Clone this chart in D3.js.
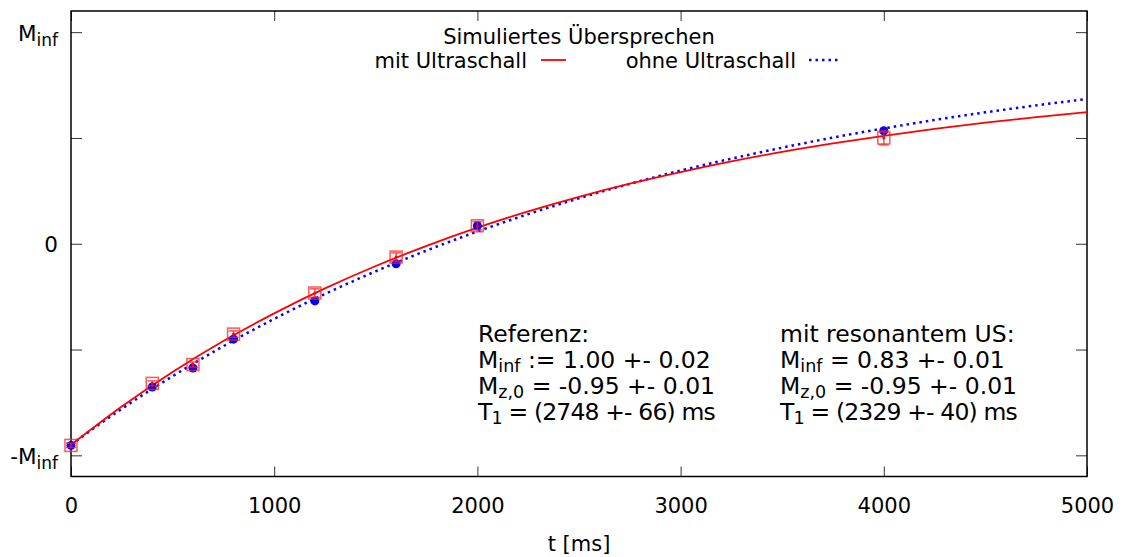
<!DOCTYPE html>
<html><head><meta charset="utf-8">
<script src="https://cdn.jsdelivr.net/npm/d3@7"></script>
<style>
body{margin:0;background:#fff;}
text{font-family:"DejaVu Sans",sans-serif;fill:#000;}
</style></head>
<body><svg id="c" width="1124" height="557"></svg>
<script>
// ---- data ----
const tPoints = [0, 400, 600, 800, 1200, 1600, 2000, 4000];
const mitUS   = [-0.953, -0.660, -0.571, -0.427, -0.233, -0.063, 0.085, 0.500];
const mitErr  = [0.010, 0.012, 0.012, 0.015, 0.020, 0.020, 0.020, 0.033];
const ohneUS  = [-0.953, -0.677, -0.587, -0.451, -0.270, -0.095, 0.085, 0.534];
const ohneErr = [0.008, 0.008, 0.008, 0.010, 0.010, 0.015, 0.010, 0.012];
// fit curves sampled every 250 ms
const tCurve  = [0,250,500,750,1000,1250,1500,1750,2000,2250,2500,2750,3000,3250,3500,3750,4000,4250,4500,4750,5000];
const fitMit  = [-0.950,-0.769,-0.606,-0.460,-0.329,-0.211,-0.105,-0.010,0.076,0.153,0.222,0.284,0.339,0.389,0.434,0.474,0.510,0.543,0.572,0.598,0.622];
const fitOhne = [-0.950,-0.780,-0.626,-0.484,-0.355,-0.237,-0.130,-0.032,0.058,0.140,0.215,0.283,0.346,0.402,0.454,0.502,0.545,0.585,0.621,0.654,0.684];
const xTicks = [0, 1000, 2000, 3000, 4000, 5000];
const yTicks = [-1, -0.5, 0, 0.5, 1];
const yTickLabels = [["-M","inf"], null, ["0",""], null, ["M","inf"]];
const legendTitle = "Simuliertes Übersprechen";
const legendNames = ["mit Ultraschall", "ohne Ultraschall"];
const xLabel = "t [ms]";
const refBlock = [["Referenz:"],["M","inf"," := 1.00 +- 0.02"],["M","z,0"," = -0.95 +- 0.01"],["T","1"," = (2748 +- 66) ms"]];
const usBlock  = [["mit resonantem US:"],["M","inf"," = 0.83 +- 0.01"],["M","z,0"," = -0.95 +- 0.01"],["T","1"," = (2329 +- 40) ms"]];

// ---- layout ----
const L = 71, R = 1087, T = 11, B = 476.5;
const svg = d3.select("#c");
const x = d3.scaleLinear().domain([0, 5000]).range([L, R]);
const y = d3.scaleLinear().domain([-1.1, 1.1]).range([B, T]);
const FS = 21;

// axes (ticks inward, mirrored)
function styleAxis(g){ g.select(".domain").remove(); g.selectAll(".tick line").attr("stroke","#333").attr("stroke-width",1); }
const gx = svg.append("g").attr("transform",`translate(0,${B})`)
  .call(d3.axisBottom(x).tickValues(xTicks).tickSize(-10).tickFormat(d3.format("d")).tickPadding(22));
styleAxis(gx);
gx.selectAll(".tick text").attr("font-size",FS).attr("font-family","DejaVu Sans").attr("fill","#000");
const gxt = svg.append("g").attr("transform",`translate(0,${T})`)
  .call(d3.axisTop(x).tickValues(xTicks).tickSize(-10).tickFormat(""));
styleAxis(gxt);
const gy = svg.append("g").attr("transform",`translate(${L},0)`)
  .call(d3.axisLeft(y).tickValues(yTicks).tickSize(-11).tickFormat(""));
styleAxis(gy);
gy.selectAll(".tick").each(function(d,i){
  const lab = yTickLabels[i]; if(!lab) return;
  const t = d3.select(this).append("text").attr("x",-13).attr("y",8).attr("text-anchor","end").attr("font-size",FS+0.5);
  t.append("tspan").text(lab[0]);
  if(lab[1]) t.append("tspan").attr("dy",5).attr("font-size",17).text(lab[1]);
});
const gyr = svg.append("g").attr("transform",`translate(${R},0)`)
  .call(d3.axisRight(y).tickValues(yTicks).tickSize(-11).tickFormat(""));
styleAxis(gyr);

// border
svg.append("rect").attr("x",L).attr("y",T).attr("width",R-L).attr("height",B-T)
  .attr("fill","none").attr("stroke","#000").attr("stroke-width",1.5);

// x label
svg.append("text").attr("x",(L+R)/2).attr("y",551).attr("text-anchor","middle").attr("font-size",FS).text(xLabel);

// curves
const line = d3.line().x(d=>x(d[0])).y(d=>y(d[1])).curve(d3.curveMonotoneX);
svg.append("path").datum(tCurve.map((t,i)=>[t,fitOhne[i]])).attr("d",line)
  .attr("fill","none").attr("stroke","#0000ff").attr("stroke-width",2.5).attr("stroke-dasharray","2.5,4");
svg.append("path").datum(tCurve.map((t,i)=>[t,fitMit[i]])).attr("d",line)
  .attr("fill","none").attr("stroke","#ff0000").attr("stroke-width",1.8);

// blue points with error bars
tPoints.forEach((t,i)=>{
  const cx=x(t), cy=y(ohneUS[i]), e1=y(ohneUS[i]+ohneErr[i]), e2=y(ohneUS[i]-ohneErr[i]);
  svg.append("line").attr("x1",cx).attr("x2",cx).attr("y1",e1).attr("y2",e2).attr("stroke","#0000ff").attr("stroke-width",1.5);
  svg.append("circle").attr("cx",cx).attr("cy",cy).attr("r",4.5).attr("fill","#0000ff");
});
// red squares with error bars
tPoints.forEach((t,i)=>{
  const cx=x(t), cy=y(mitUS[i]), e1=y(mitUS[i]+mitErr[i]), e2=y(mitUS[i]-mitErr[i]);
  const g = svg.append("g").attr("stroke","#ff2020").attr("stroke-opacity",0.75).attr("fill","none").attr("stroke-width",1.5);
  g.append("line").attr("x1",cx).attr("x2",cx).attr("y1",e1).attr("y2",e2);
  g.append("line").attr("x1",cx-5).attr("x2",cx+5).attr("y1",e1).attr("y2",e1);
  g.append("line").attr("x1",cx-5).attr("x2",cx+5).attr("y1",e2).attr("y2",e2);
  g.append("rect").attr("x",cx-6).attr("y",cy-6).attr("width",12).attr("height",12);
  svg.append("circle").attr("cx",cx).attr("cy",cy).attr("r",1.5).attr("fill","#ff0000");
});

// legend
svg.append("text").attr("x",579).attr("y",44).attr("text-anchor","middle").attr("font-size",FS).text(legendTitle);
svg.append("text").attr("x",527).attr("y",68).attr("text-anchor","end").attr("font-size",FS).text(legendNames[0]);
svg.append("line").attr("x1",541).attr("x2",566).attr("y1",60).attr("y2",60).attr("stroke","#ff0000").attr("stroke-width",1.8);
svg.append("text").attr("x",796).attr("y",68).attr("text-anchor","end").attr("font-size",FS).text(legendNames[1]);
svg.append("line").attr("x1",809).attr("x2",838).attr("y1",60).attr("y2",60).attr("stroke","#0000ff").attr("stroke-width",2.5).attr("stroke-dasharray","2.5,4");

// annotation blocks
const AFS = 23.5;
function block(lines, x0, y0){
  lines.forEach((ln,i)=>{
    const t = svg.append("text").attr("x",x0).attr("y",y0+i*26).attr("font-size",AFS);
    if(ln[0]==="T") t.attr("letter-spacing",-0.85);
    t.append("tspan").text(ln[0]);
    if(ln.length>1){
      t.append("tspan").attr("dy",4).attr("font-size",17.5).text(ln[1]);
      t.append("tspan").attr("dy",-4).text(ln[2]);
    }
  });
}
block(refBlock, 478, 342);
block(usBlock, 780, 342);
</script></body></html>
